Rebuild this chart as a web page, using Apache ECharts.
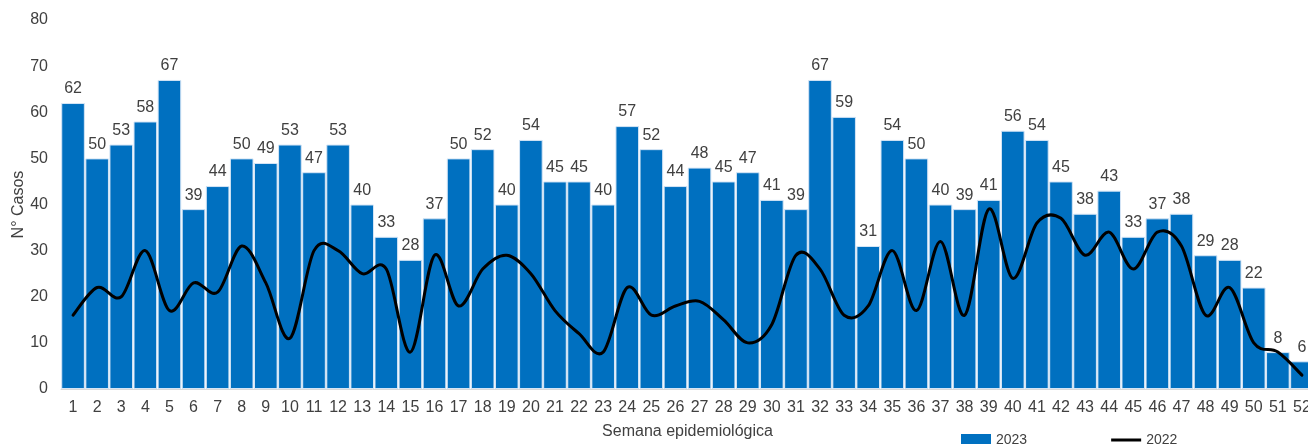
<!DOCTYPE html>
<html>
<head>
<meta charset="utf-8">
<script src="https://cdn.jsdelivr.net/npm/echarts@6/dist/echarts.min.js"></script>
<style>html,body{margin:0;padding:0;background:#fff;}#c{width:1308px;height:444px;}</style>
</head>
<body>
<div id="c"></div>
<script>
var weeks = [];
for (var i = 1; i <= 52; i++) weeks.push(String(i));
var cases2023 = [62,50,53,58,67,39,44,50,49,53,47,53,40,33,28,37,50,52,40,54,45,45,40,57,52,44,48,45,47,41,39,67,59,31,54,50,40,39,41,56,54,45,38,43,33,37,38,29,28,22,8,6];
var cases2022 = [16,22,20,30,17,23,21,31,23,11,30,30,25,26,8,29,18,26,29,25,17,12,8,22,16,18,19,15,10,14,29,26,16,18,30,17,32,16,39,24,36,37,29,34,26,34,31,16,22,10,8,3];
var yTicks = [0,10,20,30,40,50,60,70,80];

var txt = '#404040';
var font = 'Liberation Sans, Arial, sans-serif';

function smoothPath(pts) {
  var n = pts.length;
  var d = 'M' + pts[0][0] + ',' + pts[0][1];
  for (var i = 0; i < n - 1; i++) {
    var p0 = pts[Math.max(i - 1, 0)], p1 = pts[i], p2 = pts[i + 1], p3 = pts[Math.min(i + 2, n - 1)];
    var c1x = p1[0] + (p2[0] - p0[0]) / 6, c1y = p1[1] + (p2[1] - p0[1]) / 6;
    var c2x = p2[0] - (p3[0] - p1[0]) / 6, c2y = p2[1] - (p3[1] - p1[1]) / 6;
    d += 'C' + c1x + ',' + c1y + ',' + c2x + ',' + c2y + ',' + p2[0] + ',' + p2[1];
  }
  return d;
}

var chart = echarts.init(document.getElementById('c'));
chart.setOption({
  animation: false,
  textStyle: {fontFamily: font},
  grid: {left: 61, top: 20, bottom: 55, width: 1253, containLabel: false, outerBoundsMode: 'none'},
  legend: {
    left: 961, top: 433, padding: 0, itemGap: 84, itemWidth: 30, itemHeight: 12,
    textStyle: {color: txt, fontSize: 14, fontFamily: font},
    data: [{name: '2023', icon: 'rect', itemStyle: {borderWidth: 0}}, {name: '2022', icon: 'path://M0,0H30V3H0Z'}]
  },
  xAxis: {
    type: 'category', data: weeks,
    name: 'Semana epidemiológica', nameLocation: 'middle', nameGap: 35, nameMoveOverlap: false,
    nameTextStyle: {color: txt, fontSize: 16, fontFamily: font},
    axisLine: {show: true, lineStyle: {color: '#d9d9d9', width: 1}},
    axisTick: {show: false},
    axisLabel: {color: txt, fontSize: 16, margin: 11, interval: 0, fontFamily: font}
  },
  yAxis: {
    type: 'value', min: 0, max: 80, interval: 10,
    name: 'N° Casos', nameLocation: 'middle', nameGap: 34, nameMoveOverlap: false,
    nameTextStyle: {color: txt, fontSize: 16, fontFamily: font},
    axisLine: {show: false}, axisTick: {show: false}, splitLine: {show: false},
    axisLabel: {color: txt, fontSize: 16, margin: 13, fontFamily: font,
      formatter: function (v) { return yTicks.indexOf(v) >= 0 ? String(v) : ''; }}
  },
  series: [
    {
      name: '2023', type: 'bar', data: cases2023, barCategoryGap: '2%',
      itemStyle: {color: '#0070C0', borderColor: '#d4e5f6', borderWidth: 1},
      label: {show: true, position: 'top', distance: 6, color: txt, fontSize: 16, fontFamily: font}
    },
    {
      name: '2022', type: 'custom',
      data: cases2022.map(function (v, i) { return [i, v]; }),
      encode: {x: 0, y: 1},
      itemStyle: {color: '#000'},
      z: 3,
      renderItem: function (params, api) {
        if (params.dataIndex !== 0) return null;
        var pts = cases2022.map(function (v, i) { return api.coord([i, v]); });
        return {
          type: 'path',
          shape: {pathData: smoothPath(pts)},
          style: {stroke: '#000', lineWidth: 3, fill: null, lineCap: 'round', lineJoin: 'round'}
        };
      }
    }
  ]
});
</script>
</body>
</html>
